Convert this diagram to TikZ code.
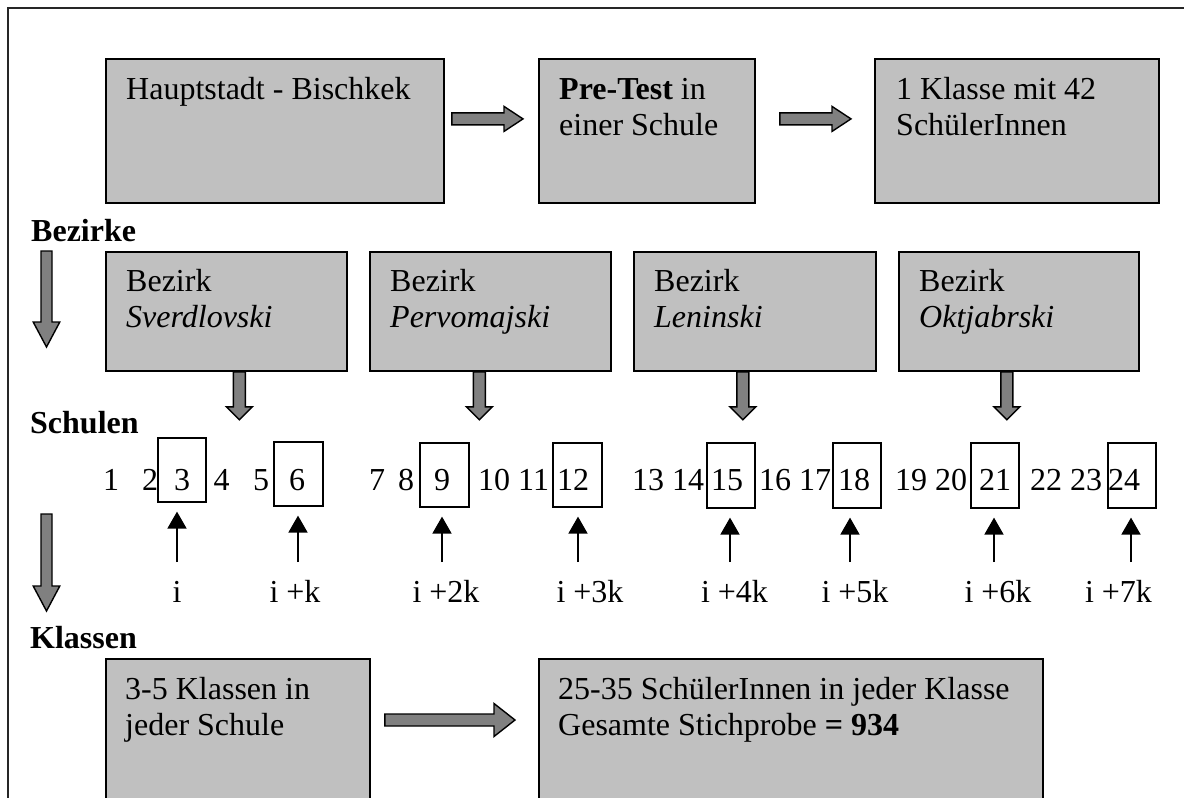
\documentclass[tikz,border=0pt]{standalone}
\usepackage{fontspec}
\setmainfont{Liberation Serif}
\usetikzlibrary{calc,arrows.meta}
\definecolor{boxgray}{HTML}{C0C0C0}
\definecolor{arrowgray}{HTML}{808080}
\tikzset{
  gbox/.style={draw=black, line width=1.8pt, fill=boxgray, inner sep=0pt, anchor=north west},
  nbox/.style={draw=black, line width=1.6pt, inner sep=0pt, anchor=north west},
  txt/.style={inner sep=0pt, font=\fontsize{32}{36}\selectfont},
  lbl/.style={inner sep=0pt, font=\fontsize{32}{36}\selectfont\bfseries, anchor=base west},
  blk/.style={draw=black, line width=1.4pt, fill=arrowgray, line join=miter},
  uparr/.style={line width=1.8pt, -{Triangle[width=19pt,length=17pt]}, shorten >=9pt},
}
% block arrows: from, to, shaft half-width, head half-width, head length
\newcommand\hblk[5]{%
  \draw[blk] let \p1=(#1), \p2=(#2) in
    (\x1,\y1+#3pt) -- (\x2-#5pt,\y1+#3pt) -- (\x2-#5pt,\y1+#4pt) -- (\x2,\y1)
    -- (\x2-#5pt,\y1-#4pt) -- (\x2-#5pt,\y1-#3pt) -- (\x1,\y1-#3pt) -- cycle;}
\newcommand\vblk[5]{%
  \draw[blk] let \p1=(#1), \p2=(#2) in
    (\x1-#3pt,\y1) -- (\x1-#3pt,\y2+#5pt) -- (\x1-#4pt,\y2+#5pt) -- (\x1,\y2)
    -- (\x1+#4pt,\y2+#5pt) -- (\x1+#3pt,\y2+#5pt) -- (\x1+#3pt,\y1) -- cycle;}

\begin{document}
\begin{tikzpicture}[x=1pt,y=-1pt]
\useasboundingbox (0,0) rectangle (1184,798);
\fill[white] (0,0) rectangle (1184,798);

% outer frame
\draw[line width=1.8pt, draw=black!85] (1190,8) -- (8,8) -- (8,806);

% ---------- top row ----------
\node[gbox, minimum width=338pt, minimum height=144pt] (haupt)   at (105,58) {};
\node[gbox, minimum width=216pt, minimum height=144pt] (pretest) at (538,58) {};
\node[gbox, minimum width=284pt, minimum height=144pt] (klasse1) at (874,58) {};

\node[txt, anchor=base west] (t-haupt) at ($(haupt.north west)+(21,41)$) {Hauptstadt - Bischkek};
\node[txt, anchor=base west] (t-pre1) at ($(pretest.north west)+(21,41)$) {\textbf{Pre-Test} in};
\node[txt, anchor=base west] (t-pre2) at ($(pretest.north west)+(21,77)$) {einer Schule};
\node[txt, anchor=base west] (t-kl1) at ($(klasse1.north west)+(22,41)$) {1 Klasse mit 42};
\node[txt, anchor=base west] (t-kl2) at ($(klasse1.north west)+(22,77)$) {SchülerInnen};

\coordinate (a1s) at ($(haupt.east)+(7,-12)$);
\coordinate (a1e) at ($(pretest.west)+(-15,-12)$);
\coordinate (a2s) at ($(pretest.east)+(24,-12)$);
\coordinate (a2e) at ($(klasse1.west)+(-23,-12)$);
\hblk{a1s}{a1e}{6}{12.5}{19}
\hblk{a2s}{a2e}{6}{12.5}{19}

% ---------- districts ----------
\node[lbl] (bez) at (31,241) {Bezirke};
\node[gbox, minimum width=241pt, minimum height=119pt] (b1) at (105,251) {};
\node[gbox, minimum width=241pt, minimum height=119pt] (b2) at (369,251) {};
\node[gbox, minimum width=242pt, minimum height=119pt] (b3) at (633,251) {};
\node[gbox, minimum width=240pt, minimum height=119pt] (b4) at (898,251) {};
\foreach \b/\n in {b1/Sverdlovski, b2/Pervomajski, b3/Leninski, b4/Oktjabrski}{
  \node[txt, anchor=base west] (\b-t1) at ($(\b.north west)+(21,40)$) {Bezirk};
  \node[txt, anchor=base west] (\b-t2) at ($(\b.north west)+(21,76)$) {\textit{\n}};
}
\foreach \b/\dx in {b1/13, b2/-11, b3/-12, b4/-12}{
  \coordinate (\b-as) at ($(\b.south)+(\dx,0)$);
  \coordinate (\b-ae) at ($(\b.south)+(\dx,48)$);
  \vblk{\b-as}{\b-ae}{6}{13}{13}
}

% left-hand level arrows
\coordinate (lv1s) at (46.5,251);
\coordinate (lv1e) at (46.5,347);
\coordinate (lv2s) at (46.5,514);
\coordinate (lv2e) at (46.5,611);
\vblk{lv1s}{lv1e}{5.5}{13.3}{25}
\vblk{lv2s}{lv2e}{5.5}{13.3}{25}

% ---------- schools ----------
\node[lbl] (sch) at (30,433) {Schulen};

\node[nbox, minimum width=48pt, minimum height=64pt] (n3)  at (157,437) {};
\node[nbox, minimum width=49pt, minimum height=64pt] (n6)  at (273,441) {};
\node[nbox, minimum width=49pt, minimum height=64pt] (n9)  at (419,442) {};
\node[nbox, minimum width=49pt, minimum height=64pt] (n12) at (552,442) {};
\node[nbox, minimum width=48pt, minimum height=65pt] (n15) at (706,442) {};
\node[nbox, minimum width=48pt, minimum height=65pt] (n18) at (832,442) {};
\node[nbox, minimum width=48pt, minimum height=65pt] (n21) at (970,442) {};
\node[nbox, minimum width=48pt, minimum height=65pt] (n24) at (1107,442) {};

% school numbers
\foreach \x/\t [count=\i] in {103/1, 142/2, 174/3, 213.5/4, 253/5, 289/6, 369/7, 398/8,
    434/9, 478/{10 11}, 557/12, 632/{13 14}, 711/15, 759/{16 17}, 838/18,
    895/{19 20}, 979/21, 1030/{22 23}, 1108/24}{
  \node[txt, anchor=base west] (num\i) at (\x,490) {\t};
}

% systematic selection
\coordinate (tailrow) at (0,562);
\foreach \b/\ax/\lx/\t in {n3/177/177/{i}, n6/298/295/{i +k}, n9/442/446/{i +2k},
    n12/578/590/{i +3k}, n15/730/734.5/{i +4k}, n18/850/855/{i +5k},
    n21/994/998/{i +6k}, n24/1131/1118.5/{i +7k}}{
  \coordinate (\b-tail) at (\ax,562);
  \draw[uparr] (\b-tail) -- (\b-tail |- \b.south);
  \node[txt, anchor=base] (\b-lab) at (\lx,602) {\t};
}

% ---------- classes ----------
\node[lbl] (kla) at (30,648) {Klassen};
\node[gbox, minimum width=264pt, minimum height=170pt] (kl)  at (105,658) {};
\node[gbox, minimum width=504pt, minimum height=170pt] (ges) at (538,658) {};
\node[txt, anchor=base west] (kl-t1) at ($(kl.north west)+(20,41)$) {3-5 Klassen in};
\node[txt, anchor=base west] (kl-t2) at ($(kl.north west)+(20,77)$) {jeder Schule};
\node[txt, anchor=base west] (ges-t1) at ($(ges.north west)+(20,41)$) {25-35 SchülerInnen in jeder Klasse};
\node[txt, anchor=base west] (ges-t2) at ($(ges.north west)+(20,77)$) {Gesamte Stichprobe \textbf{= 934}};

\coordinate (row3) at (0,720);
\coordinate (a3s) at ($(kl.east |- row3)+(14,0)$);
\coordinate (a3e) at ($(ges.west |- row3)+(-23,0)$);
\hblk{a3s}{a3e}{6}{16.5}{21}
\end{tikzpicture}
\end{document}
